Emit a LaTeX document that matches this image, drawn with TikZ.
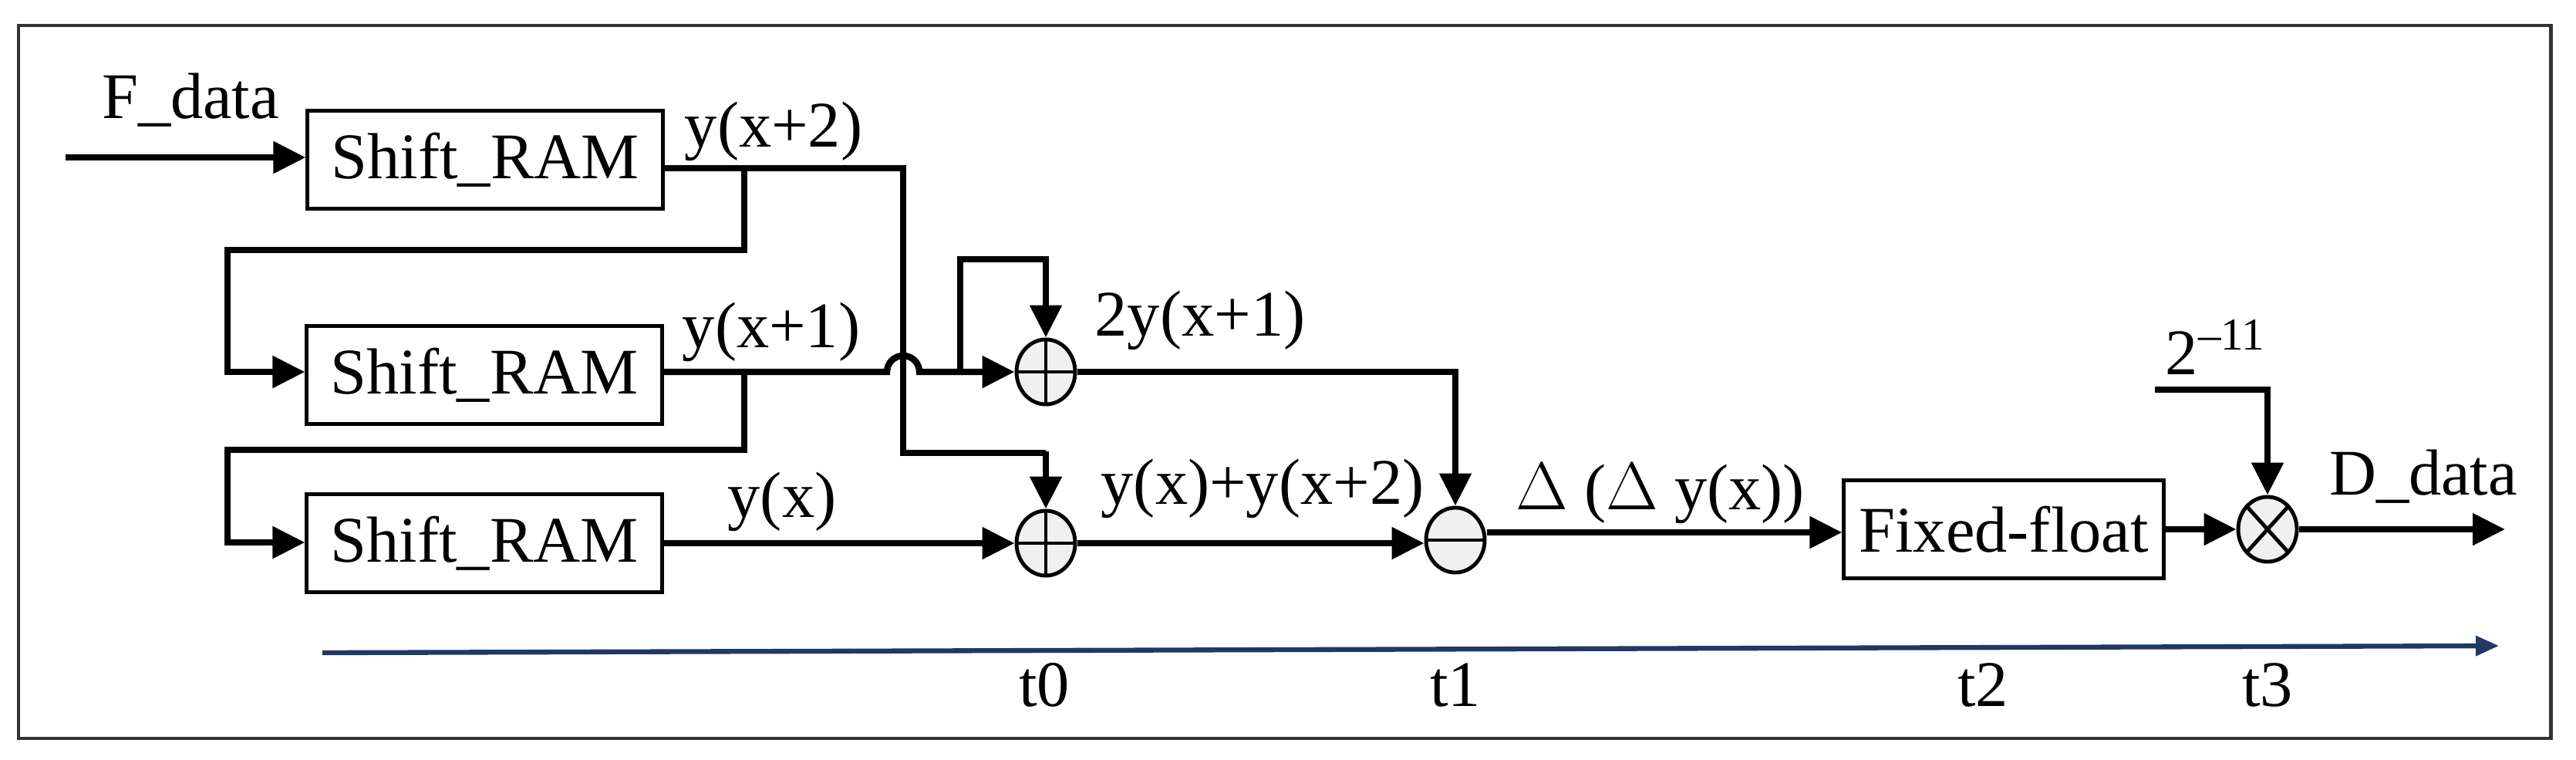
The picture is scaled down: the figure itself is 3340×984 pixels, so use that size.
\documentclass[tikz,border=0pt]{standalone}
\usepackage{fontspec}
\setmainfont{Liberation Serif}
\usetikzlibrary{arrows.meta,calc,shapes.geometric}
\begin{document}
\begin{tikzpicture}[x=0.01cm,y=-0.01cm,
  every node/.style={font=\fontsize{24}{28}\selectfont},
  blk/.style={draw,line width=1.4pt,minimum width=4.6cm,minimum height=1.27cm,inner sep=0pt},
  op/.style={draw,ellipse,line width=1.4pt,minimum width=0.76cm,minimum height=0.84cm,inner sep=0pt,fill=gray!12},
  plus/.style={op,path picture={\draw[line width=1.4pt] (path picture bounding box.north)--(path picture bounding box.south) (path picture bounding box.west)--(path picture bounding box.east);}},
  minus/.style={op,path picture={\draw[line width=1.4pt] (path picture bounding box.west)--(path picture bounding box.east);}},
  times/.style={op,path picture={\draw[line width=1.4pt] (path picture bounding box.north west)--(path picture bounding box.south east) (path picture bounding box.north east)--(path picture bounding box.south west);}},
  w/.style={line width=2.4pt},
  a/.style={w,-{Triangle[length=0.42cm,width=0.4cm]}},
  lbl/.style={inner sep=0pt}]
\useasboundingbox (0,0) rectangle (3340,984);
\draw[line width=1.4pt,black!80] (24,33) rectangle (3307,957);
% blocks
\node[blk] (b1) at (629,207) {Shift\_RAM};
\node[blk] (b2) at (628,486) {Shift\_RAM};
\node[blk] (b3) at (628,704) {Shift\_RAM};
\node[plus] (s1) at (1356,482) {};
\node[plus] (s2) at (1356,704) {};
\node[minus] (d) at (1887,700) {};
\node[blk,minimum width=4.14cm] (ff) at (2598,686) {Fixed-float};
\node[times] (m) at (2940,686) {};
% coordinates
\coordinate (in) at (85,204);
\coordinate (out) at (3248,686);
\coordinate (c2) at (2794,505);
% labels
\node[lbl] (lf) at (247,130) {F\_data};
\node[lbl] (l2) at (1003,170) {y(x+2)};
\node[lbl] (l1) at (1000,430) {y(x+1)};
\node[lbl] (l0) at (1014,650) {y(x)};
\node[lbl] (l3) at (1556,415) {2y(x+1)};
\node[lbl] (l4) at (1637,633) {y(x)+y(x+2)};
\node[lbl] (l5) at (2153,640) {$\Delta$ ($\Delta$ y(x))};
\node[lbl] (l6) at (2873,450) {2\textsuperscript{–11}};
\node[lbl] (l7) at (3142,618) {D\_data};
% connectors
\draw[a] (in) -- (b1.west|-0,204);
\draw[w] (b1.east|-0,218) -- (1171,218) -- (1171,587) -- (1356,587);
\draw[a] (1356,585) -- (s2);
\draw[a] (965,218) -- (965,324) -- (295,324) -- (295,482) -- (b2.west|-0,482);
\draw[a] (b2.east|-0,482) -- (1150,482) arc[start angle=180,end angle=0,radius=0.21cm] -- (s1);
\draw[a] (1245,482) -- (1245,336) -- (1356,336) -- (s1);
\draw[a] (965,482) -- (965,583) -- (295,583) -- (295,703) -- (b3.west|-0,703);
\draw[a] (b3.east|-0,704) -- (s2);
\draw[a] (s1) -- (1887,482) -- (d);
\draw[a] (s2.east) -- (d.west|-0,704);
\draw[a] (d.east|-0,690) -- (ff.west|-0,690);
\draw[a] (ff) -- (m);
\draw[a] (m) -- (out);
\draw[a] (c2) -- (2940,505) -- (m);
% time axis
\coordinate (ta) at (418,846);
\coordinate (tb) at (3240,837);
\draw[line width=1.8pt,color={rgb,255:red,31;green,56;blue,100},-{Triangle[length=0.3cm,width=0.25cm]}] (ta) -- (tb);
\node[lbl] (t0) at (1354,888) {t0};
\node[lbl] (t1) at (1887,888) {t1};
\node[lbl] (t2) at (2571,888) {t2};
\node[lbl] (t3) at (2940,888) {t3};
\end{tikzpicture}
\end{document}
